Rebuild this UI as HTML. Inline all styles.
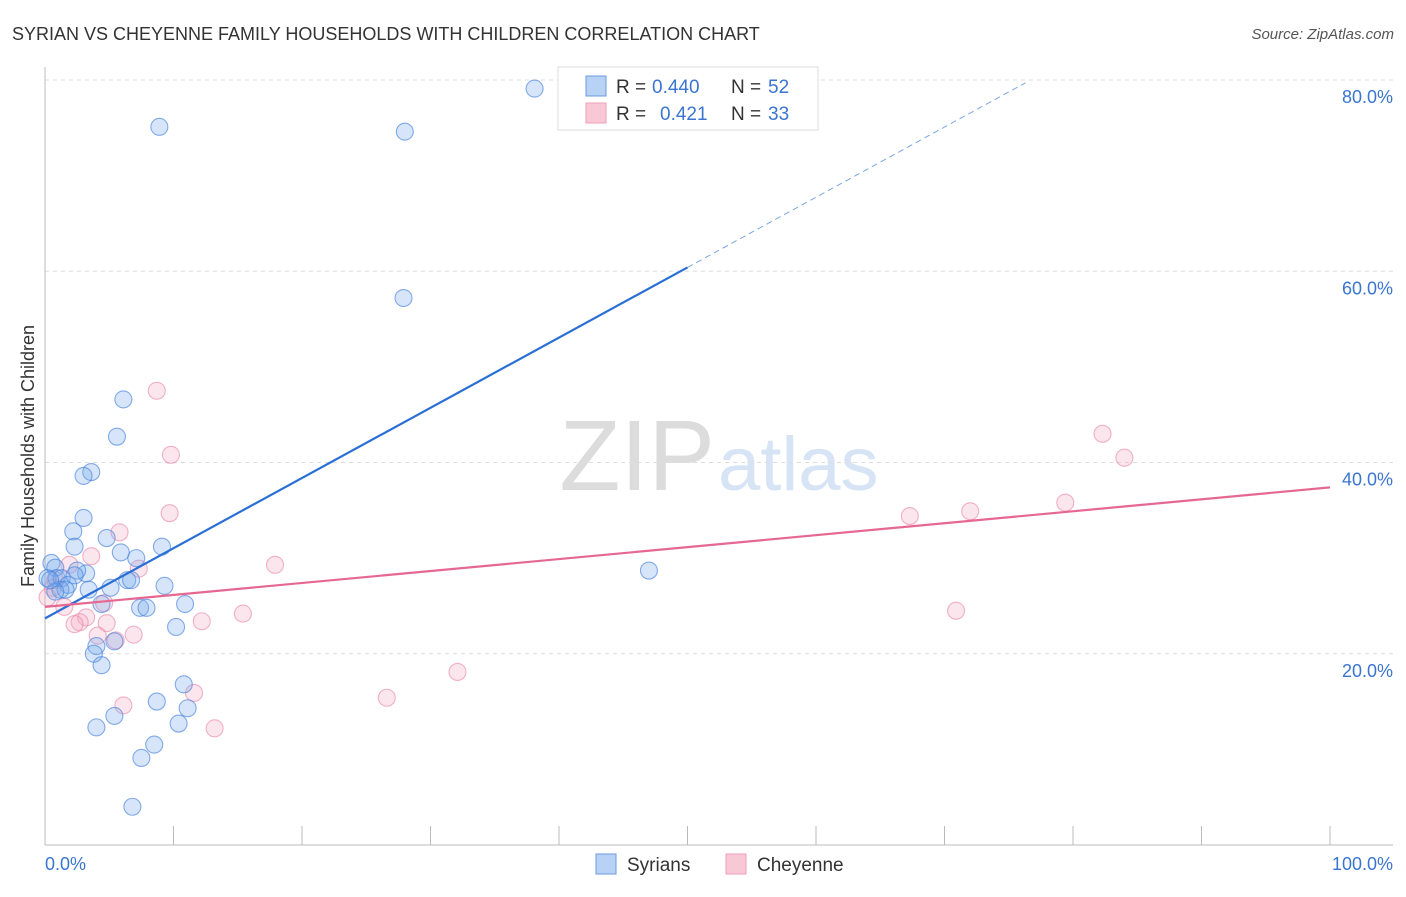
<!DOCTYPE html>
<html><head><meta charset="utf-8"><style>
body{margin:0;background:#fff;font-family:"Liberation Sans",sans-serif;}
svg text{font-family:"Liberation Sans",sans-serif;}
</style></head><body>
<svg id="chart" width="1406" height="892">
<text x="12" y="40" font-size="18" fill="#333">SYRIAN VS CHEYENNE FAMILY HOUSEHOLDS WITH CHILDREN CORRELATION CHART</text>
<text x="1394" y="39" font-size="15" fill="#555" text-anchor="end" font-style="italic">Source: ZipAtlas.com</text>
<text x="715" y="490" font-size="100" fill="#dcdcdc" text-anchor="end" font-family="Liberation Serif">ZIP</text>
<text x="718" y="490" font-size="76" fill="#d6e4f5">atlas</text>
<g id="grid"></g><g id="axes"></g><g id="pts"></g><g id="lines"></g>
<text transform="translate(34,456) rotate(-90)" font-size="18" fill="#333" text-anchor="middle">Family Households with Children</text>
<text x="45" y="870" font-size="18" fill="#3a75d0">0.0%</text>
<text x="1393" y="870" font-size="18" fill="#3a75d0" text-anchor="end">100.0%</text>
<g>
<rect x="558" y="67" width="260" height="63" fill="#fff" stroke="#ddd"/>
<rect x="586" y="76" width="20" height="20" fill="#b8d2f5" stroke="#6a9be0"/>
<rect x="586" y="103" width="20" height="20" fill="#f9c8d6" stroke="#ee9fb8"/>
<text x="616" y="93" font-size="19" fill="#333">R =</text>
<text x="652" y="93" font-size="19" fill="#3a75d0">0.440</text>
<text x="731" y="93" font-size="19" fill="#333">N =</text>
<text x="768" y="93" font-size="19" fill="#3a75d0">52</text>
<text x="616" y="120" font-size="19" fill="#333">R =</text>
<text x="660" y="120" font-size="19" fill="#3a75d0">0.421</text>
<text x="731" y="120" font-size="19" fill="#333">N =</text>
<text x="768" y="120" font-size="19" fill="#3a75d0">33</text>
</g>
<g>
<rect x="596" y="854" width="20" height="20" fill="#b8d2f5" stroke="#6a9be0"/>
<text x="627" y="871" font-size="19" fill="#333">Syrians</text>
<rect x="726" y="854" width="20" height="20" fill="#f9c8d6" stroke="#ee9fb8"/>
<text x="757" y="871" font-size="19" fill="#333">Cheyenne</text>
</g>
</svg>
<script>
const yTicks=[20,40,60,80];
const yTickLabels=["20.0%","40.0%","60.0%","80.0%"];
const xTicks=[0,10,20,30,40,50,60,70,80,90,100];
const syrX=[8.9,28.0,38.1,27.9,6.1,5.6,3.6,3.0,3.0,2.2,2.3,4.8,5.9,7.1,9.1,0.5,0.8,0.9,0.2,1.3,3.2,2.5,1.8,1.2,1.6,3.4,5.1,6.4,6.7,9.3,4.4,7.4,7.9,10.9,10.2,5.4,4.0,3.8,4.4,10.8,8.7,11.1,5.4,4.0,10.4,8.5,7.5,6.8,47.0,2.3,0.8,0.4];
const syrY=[75.1,74.6,79.1,57.2,46.6,42.7,39.0,38.6,34.2,32.8,31.2,32.1,30.6,30.0,31.2,29.5,29.0,27.9,27.9,27.9,28.4,28.7,27.2,26.7,26.7,26.7,26.9,27.7,27.7,27.1,25.2,24.8,24.8,25.2,22.8,21.3,20.8,20.0,18.8,16.8,15.0,14.3,13.5,12.3,12.7,10.5,9.1,4.0,28.7,28.2,26.5,27.7];
const cheX=[8.7,9.8,9.7,5.8,3.6,1.9,7.3,17.9,0.6,0.2,1.5,4.6,3.2,2.7,2.3,4.8,4.1,5.5,6.9,12.2,15.4,11.6,6.1,13.2,26.6,32.1,67.3,72.0,79.4,82.3,84.0,70.9,0.8];
const cheY=[47.5,40.8,34.7,32.7,30.2,29.3,28.9,29.3,26.9,25.9,24.9,25.3,23.8,23.3,23.1,23.2,21.9,21.4,22.0,23.4,24.2,15.9,14.6,12.2,15.4,18.1,34.4,34.9,35.8,43.0,40.5,24.5,27.7];
const syrTrend=[23.7,60.4];
const cheTrend=[24.9,37.4];
const NS='http://www.w3.org/2000/svg';
const X=v=>45+v*12.85, Y=v=>845-v*9.5625;
function mk(p,t,a){const e=document.createElementNS(NS,t);for(const k in a)e.setAttribute(k,a[k]);p.appendChild(e);return e;}
const grid=document.getElementById('grid'),axes=document.getElementById('axes'),pts=document.getElementById('pts'),lines=document.getElementById('lines');
yTicks.forEach((t,i)=>{
 const l=mk(grid,'line',{x1:45,x2:1393,y1:Y(t),y2:Y(t),stroke:'#ddd','stroke-dasharray':'4,4'});
 
 
 const tx=mk(grid,'text',{x:1393,y:Y(t)+23,'font-size':18,fill:'#3a75d0','text-anchor':'end'});
 tx.textContent=yTickLabels[i];
 
 
});
const ya=mk(axes,'line',{x1:45,x2:45,y1:67,y2:845,stroke:'#bbb'});


const xa=mk(axes,'line',{x1:45,x2:1393,y1:845,y2:845,stroke:'#bbb'});


xTicks.forEach(t=>{
 const l=mk(axes,'line',{x1:X(t),x2:X(t),y1:826,y2:845,stroke:'#bbb'});
 
 
});
function dots(xs,ys,fill,stroke,name){xs.forEach((x,i)=>{
 const c=mk(pts,'circle',{cx:X(x),cy:Y(ys[i]),r:8.5,fill:fill,stroke:stroke,'stroke-width':1.1});
 
 
});}
dots(cheX,cheY,'rgba(245,165,190,0.28)','rgba(232,130,165,0.6)','cheyenne-point');
dots(syrX,syrY,'rgba(120,170,235,0.3)','rgba(70,130,220,0.65)','syrian-point');
const sl=(syrTrend[1]-syrTrend[0])/50;
const s1=mk(lines,'line',{x1:X(0),y1:Y(syrTrend[0]),x2:X(50),y2:Y(syrTrend[1]),stroke:'#2a6fd6','stroke-width':2.2});


const s2=mk(lines,'line',{x1:X(50),y1:Y(syrTrend[1]),x2:X(76.3),y2:Y(syrTrend[0]+sl*76.3),stroke:'#7aa6e6','stroke-width':1,'stroke-dasharray':'6,4'});


const c1=mk(lines,'line',{x1:X(0),y1:Y(cheTrend[0]),x2:X(100),y2:Y(cheTrend[1]),stroke:'#e66890','stroke-width':2.2});


</script>
</body></html>
